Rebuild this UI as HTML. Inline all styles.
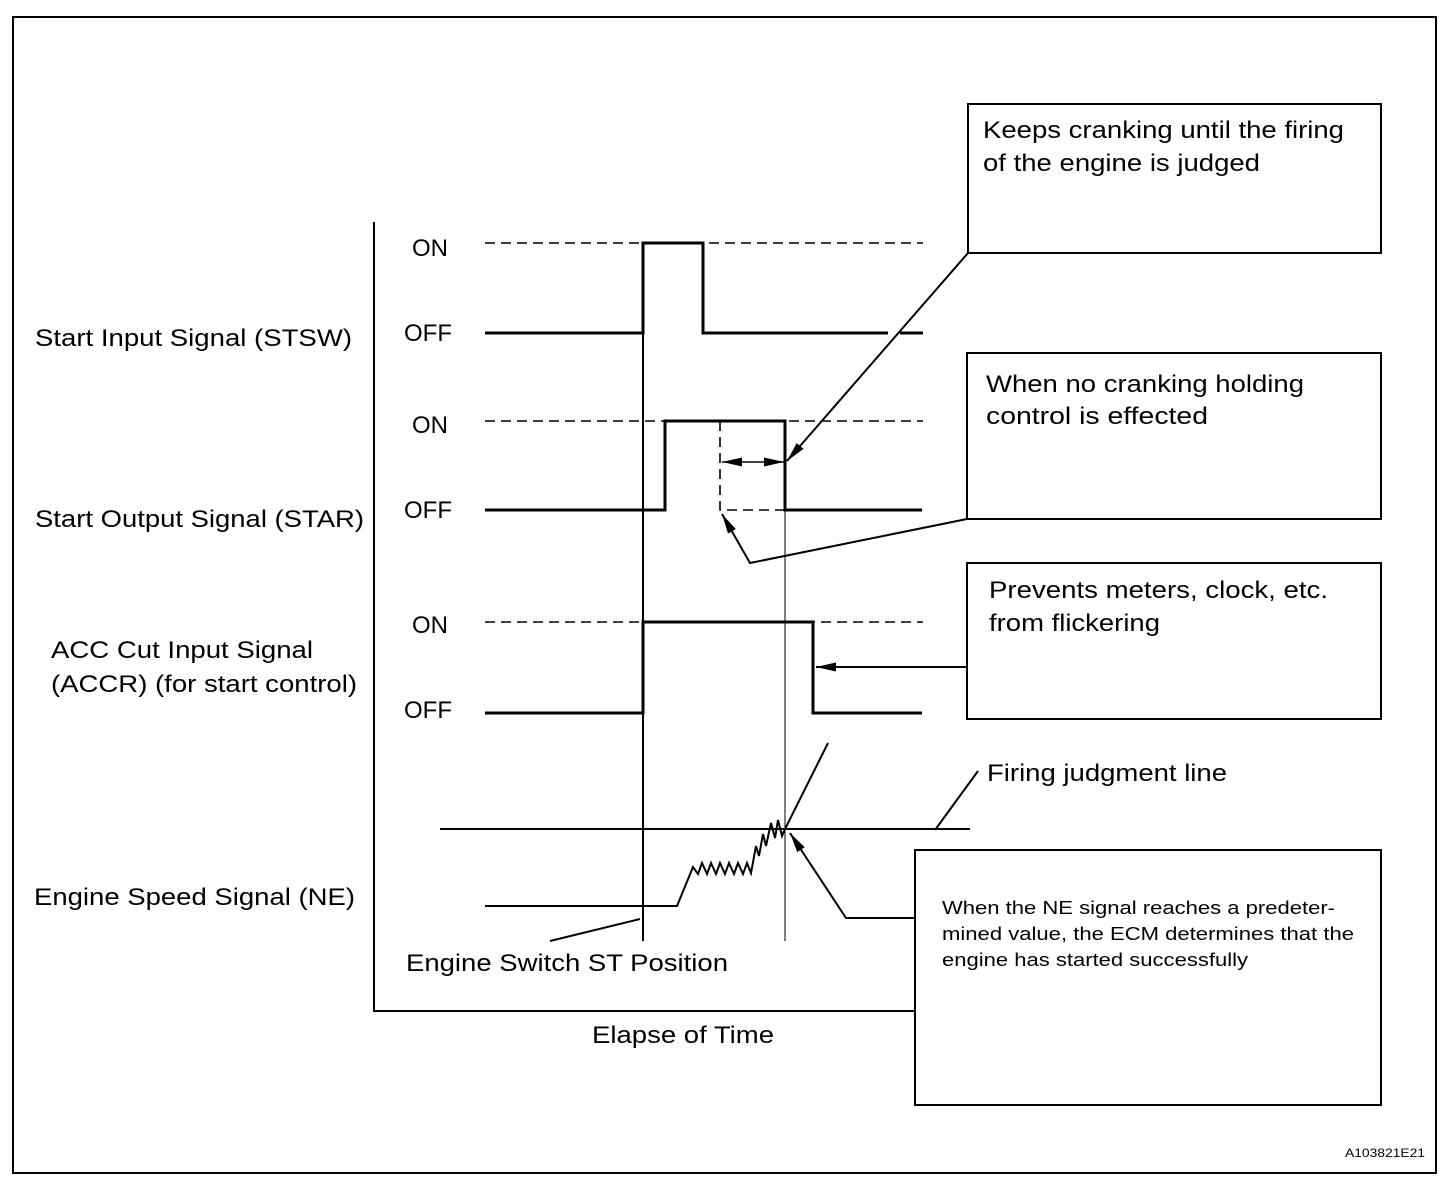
<!DOCTYPE html>
<html><head><meta charset="utf-8"><style>body{margin:0;background:#fff}svg{display:block}text{font-family:"Liberation Sans",Arial,sans-serif;fill:#000}</style></head>
<body>
<svg width="1456" height="1190" viewBox="0 0 1456 1190" xmlns="http://www.w3.org/2000/svg">
<defs>
<marker id="ah" viewBox="0 0 20 10" refX="20" refY="5" markerWidth="20" markerHeight="10" markerUnits="userSpaceOnUse" orient="auto-start-reverse"><path d="M0,0.5 L20,5 L0,9.5 Z" fill="#000"/></marker>
</defs>
<rect x="13" y="17" width="1423" height="1156" fill="none" stroke="#000" stroke-width="2"/>
<polyline points="374,222 374,1011 915,1011" fill="none" stroke="#000" stroke-width="2"/>
<line x1="643" y1="243" x2="643" y2="941" stroke="#000" stroke-width="2"/>
<line x1="785" y1="421" x2="785" y2="941" stroke="#000" stroke-width="1"/>
<g stroke="#000" stroke-width="1.6" stroke-dasharray="10,6" fill="none">
<line x1="485" y1="243" x2="923" y2="243"/>
<line x1="485" y1="421" x2="923" y2="421"/>
<line x1="485" y1="622" x2="923" y2="622"/>
<polyline points="720,421 720,510 785,510"/>
</g>
<g stroke="#000" stroke-width="3" fill="none">
<polyline points="485,333 643,333 643,243 703,243 703,333 888,333"/>
<line x1="900" y1="333" x2="923" y2="333"/>
<polyline points="485,510 665,510 665,421 785,421 785,510 922,510"/>
<polyline points="485,713 643,713 643,622 813,622 813,713 922,713"/>
</g>
<line x1="722" y1="462" x2="784" y2="462" stroke="#000" stroke-width="1.5" marker-start="url(#ah)" marker-end="url(#ah)"/>
<g fill="none" stroke="#000" stroke-width="2">
<rect x="968" y="104" width="413" height="149"/>
<rect x="967" y="353" width="414" height="166"/>
<rect x="967" y="563" width="414" height="156"/>
<rect x="915" y="850" width="466" height="255"/>
</g>
<g stroke="#000" stroke-width="2" fill="none">
<line x1="968" y1="253" x2="787" y2="461" marker-end="url(#ah)"/>
<polyline points="967,519 750,563 722,514" marker-end="url(#ah)"/>
<line x1="967" y1="667" x2="816" y2="667" marker-end="url(#ah)"/>
<polyline points="915,918 846,918 790,833" marker-end="url(#ah)"/>
<line x1="550" y1="941" x2="640" y2="919"/>
<line x1="935" y1="830" x2="978" y2="771"/>
</g>
<line x1="440" y1="829" x2="970" y2="829" stroke="#000" stroke-width="2"/>
<polyline points="485,906 677,906 693,867 698,874 702,863 707,874 711,863 716,874 720,863 725,874 729,863 734,874 738,863 743,874 747,863 751,873 756,846 759,856 763,834 766,846 771,823 775,838 778,820 782,836 785,829 828,743" fill="none" stroke="#000" stroke-width="2"/>
<g font-size="24">
<text x="35" y="346" textLength="317" lengthAdjust="spacingAndGlyphs">Start Input Signal (STSW)</text>
<text x="35" y="527" textLength="329" lengthAdjust="spacingAndGlyphs">Start Output Signal (STAR)</text>
<text x="51" y="658" textLength="262" lengthAdjust="spacingAndGlyphs">ACC Cut Input Signal</text>
<text x="51" y="692" textLength="306" lengthAdjust="spacingAndGlyphs">(ACCR) (for start control)</text>
<text x="34" y="905" textLength="321" lengthAdjust="spacingAndGlyphs">Engine Speed Signal (NE)</text>
<text x="412" y="256">ON</text><text x="404" y="341">OFF</text>
<text x="412" y="433">ON</text><text x="404" y="518">OFF</text>
<text x="412" y="633">ON</text><text x="404" y="718">OFF</text>
<text x="406" y="971" textLength="322" lengthAdjust="spacingAndGlyphs">Engine Switch ST Position</text>
<text x="592" y="1043" textLength="182" lengthAdjust="spacingAndGlyphs">Elapse of Time</text>
<text x="983" y="138" textLength="361" lengthAdjust="spacingAndGlyphs">Keeps cranking until the firing</text>
<text x="983" y="171" textLength="277" lengthAdjust="spacingAndGlyphs">of the engine is judged</text>
<text x="986" y="392" textLength="318" lengthAdjust="spacingAndGlyphs">When no cranking holding</text>
<text x="986" y="424" textLength="222" lengthAdjust="spacingAndGlyphs">control  is effected</text>
<text x="989" y="598" textLength="339" lengthAdjust="spacingAndGlyphs">Prevents meters, clock, etc.</text>
<text x="989" y="631" textLength="171" lengthAdjust="spacingAndGlyphs">from flickering</text>
<text x="987" y="781" textLength="240" lengthAdjust="spacingAndGlyphs">Firing judgment line</text>
</g>
<g font-size="18">
<text x="942" y="914" textLength="393" lengthAdjust="spacingAndGlyphs">When the NE signal reaches a predeter-</text>
<text x="942" y="940" textLength="412" lengthAdjust="spacingAndGlyphs">mined value, the ECM determines that the</text>
<text x="942" y="966" textLength="306" lengthAdjust="spacingAndGlyphs">engine has started successfully</text>
</g>
<text x="1345" y="1157" font-size="12" textLength="80" lengthAdjust="spacingAndGlyphs">A103821E21</text>
</svg>
</body></html>
